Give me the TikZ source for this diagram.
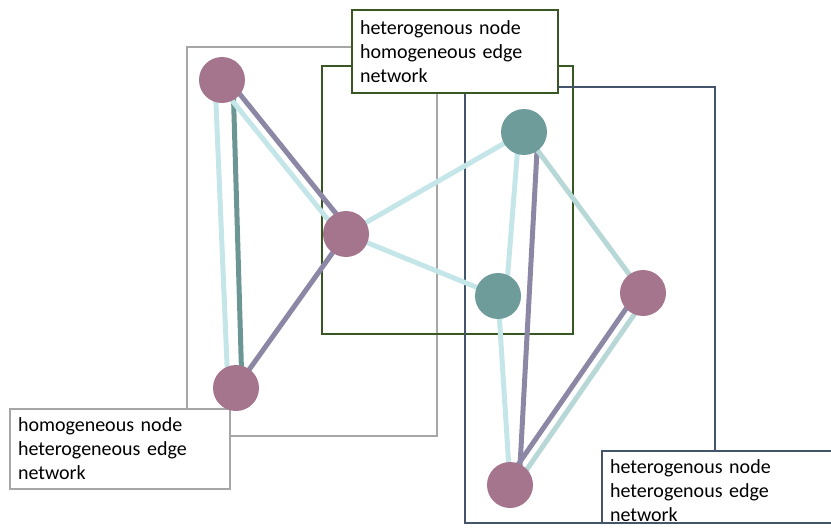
\documentclass[tikz,border=0pt]{standalone}
\usepackage{fontspec}
\setmainfont{Carlito}
\usetikzlibrary{calc}
\pgfdeclarelayer{background}
\pgfsetlayers{background,main}

\definecolor{pinkfill}{RGB}{165,117,141}
\definecolor{tealfill}{RGB}{110,156,154}
\definecolor{lightcyan}{RGB}{197,230,232}
\definecolor{darkteal}{RGB}{108,150,148}
\definecolor{purpleedge}{RGB}{140,135,165}
\definecolor{paleteal}{RGB}{183,216,214}
\definecolor{grayframe}{RGB}{166,166,166}
\definecolor{greenframe}{RGB}{56,87,35}
\definecolor{blueframe}{RGB}{68,84,106}

\tikzset{
  vertex/.style={circle, minimum size=46pt, inner sep=0pt, draw=none},
  pinkv/.style={vertex, fill=pinkfill},
  tealv/.style={vertex, fill=tealfill},
  frame/.style={line width=2pt},
  lbl/.style={anchor=north west, fill=white, line width=2pt, align=left,
    inner xsep=8pt, font=\fontsize{20}{24}\selectfont},
  edge/.style={line width=5pt},
}

\begin{document}
\begin{tikzpicture}[x=1pt,y=-1pt]
\useasboundingbox (0,0) rectangle (831,530);

% vertices
\node[pinkv] (A) at (222,80) {};
\node[pinkv] (B) at (346,234) {};
\node[pinkv] (C) at (236,388) {};
\node[tealv] (D) at (524,132) {};
\node[tealv] (E) at (498,296) {};
\node[pinkv] (F) at (643,293) {};
\node[pinkv] (G) at (510,485) {};

\begin{pgfonlayer}{background}
  % group frames
  \draw[frame, grayframe]  (187,47) rectangle (437,436);
  \draw[frame, greenframe] (322,66) rectangle (573,334);
  \draw[frame, blueframe]  (465,87) rectangle (715,523);

  % frame captions
  \node[lbl, draw=grayframe, text width=204pt, minimum width=220pt, minimum height=80pt]
    (lgray) at (9,408) {homogeneous node\\heterogeneous edge\\network};
  \node[lbl, draw=greenframe, text width=190pt, minimum width=206pt, minimum height=83pt]
    (lgreen) at (351,9) {heterogenous node\\homogeneous edge\\network};
  \node[lbl, draw=blueframe, text width=230pt, inner ysep=9pt, text depth=40pt]
    (lblue) at (601,450) {heterogenous node\\heterogenous edge\\network};

  % edges
  \draw[edge, lightcyan] ([xshift=-7pt]A.center) -- ([xshift=-8pt]C.center);
  \draw[edge, darkteal]  ([xshift=11pt]A.center) -- ([xshift=6pt]C.center);
  \draw[edge, purpleedge] ($(A.center)!5pt!90:(B.center)$) -- ($(B.center)!5pt!-90:(A.center)$);
  \draw[edge, lightcyan]  ($(A.center)!5pt!-90:(B.center)$) -- ($(B.center)!5pt!90:(A.center)$);
  \draw[edge, purpleedge] (B.center) -- (C.center);
  \draw[edge, lightcyan] (B.center) -- (D.center);
  \draw[edge, lightcyan] (B.center) -- (E.center);
  \draw[edge, lightcyan] ([xshift=-5pt]D.center) -- ([xshift=8pt]E.center);
  \draw[edge, lightcyan] (E.center) -- (G.center);
  \draw[edge, purpleedge] ([xshift=14pt]D.center) -- ([xshift=9pt]G.center);
  \draw[edge, paleteal] (D.center) -- (F.center);
  \draw[edge, purpleedge] ($(F.center)!5pt!-90:(G.center)$) -- ($(G.center)!5pt!90:(F.center)$);
  \draw[edge, paleteal]   ($(F.center)!5pt!90:(G.center)$) -- ($(G.center)!5pt!-90:(F.center)$);
\end{pgfonlayer}
\end{tikzpicture}
\end{document}
